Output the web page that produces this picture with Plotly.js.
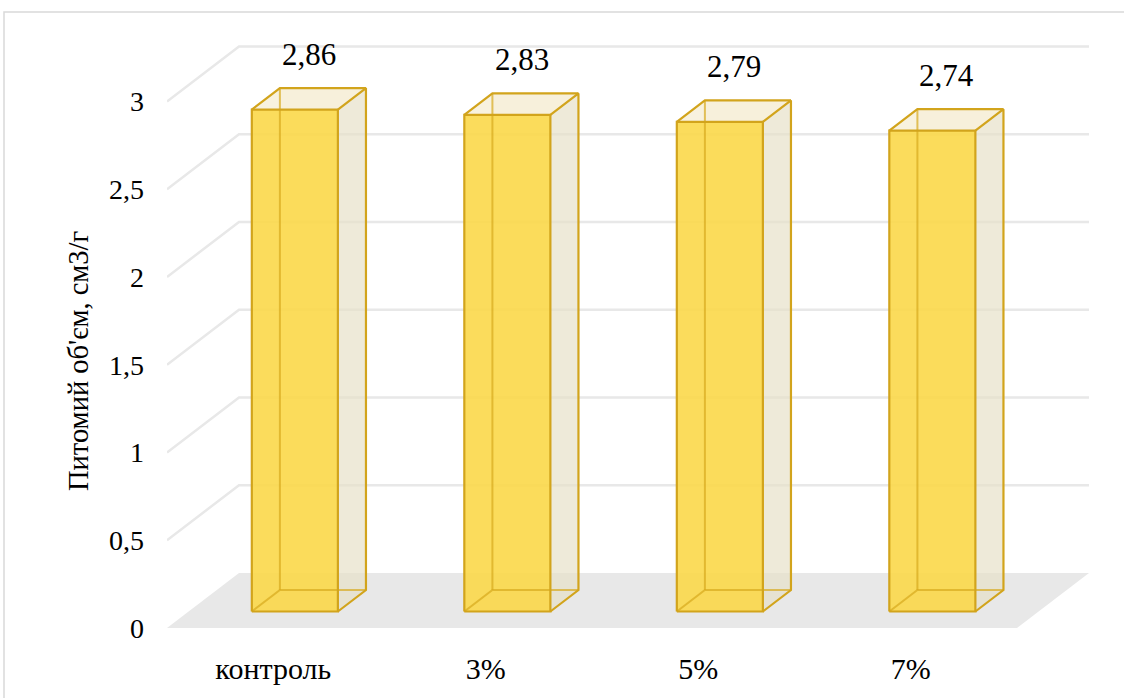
<!DOCTYPE html>
<html>
<head>
<meta charset="utf-8">
<script src="https://cdn.plot.ly/plotly-3.0.1.min.js"></script>
<style>
html,body{margin:0;padding:0;background:#fff;}
#chart{width:1124px;height:698px;}
</style>
</head>
<body>
<div id="chart"></div>
<script>
// ---- data ----
const categories = ['контроль', '3%', '5%', '7%'];
const values = [2.86, 2.83, 2.79, 2.74];
const valueLabels = ['2,86', '2,83', '2,79', '2,74'];
const yTickVals = [0, 0.5, 1, 1.5, 2, 2.5, 3];
const yTickText = ['0', '0,5', '1', '1,5', '2', '2,5', '3'];
const yTitle = "Питомий об'єм, см3/г";

// ---- geometry / style ----
const W = 1124, H = 698;
const M = {l: 167, r: 14, t: 30, b: 52};
const PX_PER_CAT = 212.5, PX_PER_UNIT = 175.5;
const DEPTH_DX = 72, DEPTH_DY = 55;       // full-depth oblique offset, px
const kx = DEPTH_DX / PX_PER_CAT, ky = DEPTH_DY / PX_PER_UNIT;
const plotW = W - M.l - M.r, plotH = H - M.t - M.b;
const xMin = -0.5, xMax = xMin + plotW / PX_PER_CAT;
const yMin = -18 / PX_PER_UNIT, yMax = yMin + plotH / PX_PER_UNIT;
const BAR_HALF = 0.2025, Z_FRONT = 0.30, Z_BACK = 0.69;
const FONT = '"Liberation Serif", "Times New Roman", serif';

function P(c, v, z) { return [c + z * kx, v + z * ky]; }
function poly(pts, fill, lineColor, width) {
  const xs = pts.map(p => p[0]), ys = pts.map(p => p[1]);
  xs.push(pts[0][0]); ys.push(pts[0][1]);
  return {type: 'scatter', mode: 'lines', x: xs, y: ys, fill: 'toself',
    fillcolor: fill, line: {color: lineColor || 'rgba(0,0,0,0)', width: width || 0},
    hoverinfo: 'skip', showlegend: false};
}
function segs(list, color, width) {
  const xs = [], ys = [];
  list.forEach(s => { s.forEach(p => { xs.push(p[0]); ys.push(p[1]); }); xs.push(null); ys.push(null); });
  return {type: 'scatter', mode: 'lines', x: xs, y: ys, line: {color: color, width: width},
    hoverinfo: 'skip', showlegend: false};
}

const traces = [];
const c0 = -0.5, c1 = categories.length - 0.5;

// back wall + side wall gridlines
const grid = [];
yTickVals.filter(v => v > 0).forEach(v => {
  grid.push([P(c0, v, 0), P(c0, v, 1), P(c1, v, 1)]);
});
traces.push(segs(grid, '#e8e8e8', 2.5));

// floor
traces.push(poly([P(c0, 0, 0), P(c1, 0, 0), P(c1, 0, 1), P(c0, 0, 1)], '#e8e8e8'));

// bars
const EDGE = '#d2a41c';
const annotations = [];
categories.forEach((cat, i) => {
  const v = values[i];
  const l = i - BAR_HALF, r = i + BAR_HALF;
  traces.push(poly([P(l, 0, Z_BACK), P(r, 0, Z_BACK), P(r, v, Z_BACK), P(l, v, Z_BACK)], 'rgba(240,232,205,0.30)'));
  traces.push(poly([P(l, 0, Z_FRONT), P(r, 0, Z_FRONT), P(r, 0, Z_BACK), P(l, 0, Z_BACK)], 'rgba(235,228,200,0.25)'));
  traces.push(poly([P(r, 0, Z_FRONT), P(r, 0, Z_BACK), P(r, v, Z_BACK), P(r, v, Z_FRONT)], 'rgba(228,222,198,0.55)'));
  traces.push(poly([P(l, v, Z_FRONT), P(r, v, Z_FRONT), P(r, v, Z_BACK), P(l, v, Z_BACK)], 'rgba(246,238,212,0.75)'));
  traces.push(poly([P(l, 0, Z_FRONT), P(r, 0, Z_FRONT), P(r, v, Z_FRONT), P(l, v, Z_FRONT)], 'rgba(250,215,70,0.88)'));
  traces.push(segs([
    [P(l, 0, Z_FRONT), P(l, 0, Z_BACK), P(r, 0, Z_BACK)],
    [P(l, 0, Z_BACK), P(l, v, Z_BACK)]
  ], 'rgba(215,170,30,0.7)', 2));
  traces.push(segs([
    [P(l, 0, Z_FRONT), P(r, 0, Z_FRONT), P(r, v, Z_FRONT), P(l, v, Z_FRONT), P(l, 0, Z_FRONT)],
    [P(r, 0, Z_FRONT), P(r, 0, Z_BACK), P(r, v, Z_BACK), P(r, v, Z_FRONT)],
    [P(l, v, Z_FRONT), P(l, v, Z_BACK), P(r, v, Z_BACK)]
  ], EDGE, 2.2));
  const top = P(i, v, 0.5);
  annotations.push({x: top[0], y: top[1], xref: 'x', yref: 'y', text: valueLabels[i],
    showarrow: false, yanchor: 'middle', yshift: 44,
    font: {family: FONT, size: 31, color: '#000'}});
});

// y-axis title as rotated text (centred where the reference has it)
annotations.push({x: (78 - M.l) / plotW, y: (H - M.b - 361) / plotH, xref: 'paper', yref: 'paper',
  text: yTitle, textangle: -90, showarrow: false, xanchor: 'center', yanchor: 'middle',
  font: {family: FONT, size: 28.5, color: '#000'}});

const layout = {
  width: W, height: H,
  margin: M,
  paper_bgcolor: '#fff', plot_bgcolor: 'rgba(0,0,0,0)',
  showlegend: false,
  font: {family: FONT, color: '#000'},
  xaxis: {
    range: [xMin, xMax], tickmode: 'array', tickvals: categories.map((c, i) => i), ticktext: categories,
    showgrid: false, zeroline: false, showline: false, ticks: '', fixedrange: true,
    tickfont: {family: FONT, size: 30, color: '#000'}, ticklabelstandoff: 2
  },
  yaxis: {
    range: [yMin, yMax], tickmode: 'array', tickvals: yTickVals, ticktext: yTickText,
    showgrid: false, zeroline: false, showline: false, ticks: '', fixedrange: true,
    tickfont: {family: FONT, size: 28, color: '#000'}, ticklabelstandoff: 22
  },
  annotations: annotations,
  shapes: [{type: 'rect', xref: 'paper', yref: 'paper',
    x0: (4 - M.l) / plotW, x1: (W + 10 - M.l) / plotW,
    y0: (H - M.b - (H + 10)) / plotH, y1: (H - M.b - 12) / plotH,
    line: {color: '#d9d9d9', width: 1.5}, fillcolor: 'rgba(0,0,0,0)', layer: 'below'}]
};

Plotly.newPlot('chart', traces, layout, {displayModeBar: false, staticPlot: true});
</script>
</body>
</html>
